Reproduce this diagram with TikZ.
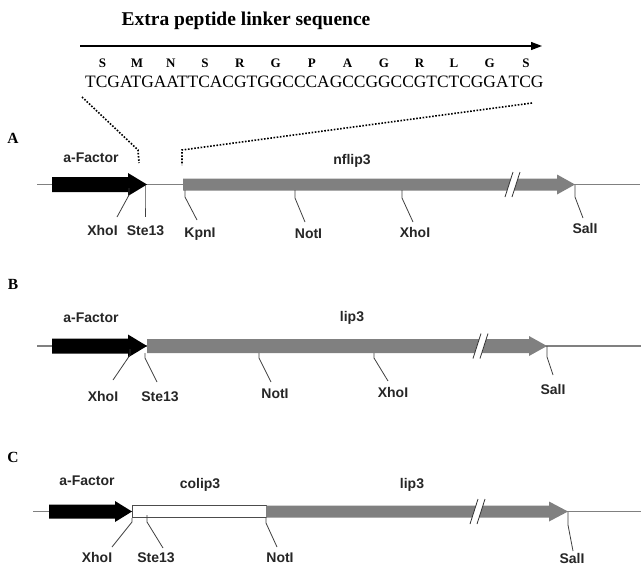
\documentclass[tikz,border=0pt]{standalone}
\usepackage{fontspec}
\setmainfont{Liberation Serif}
\newfontfamily\arialf{Liberation Sans}
\usetikzlibrary{arrows.meta}
\newsavebox\codbox
\newcommand\cod[2]{\sbox\codbox{#2}\rlap{\hbox to \wd\codbox{\hss\raisebox{20pt}{\fontsize{13}{13}\selectfont\bfseries #1}\hss}}\usebox\codbox}
% site: name, x1,y1, ybend, x2,y2, labx, laby, text
\newcommand\rsite[9]{%
  \coordinate (#1-a) at (#2,#3);
  \coordinate (#1-b) at (#2,#4);
  \coordinate (#1-c) at (#5,#6);
  \node[sitelab] (#1) at (#7,#8) {#9};
  \draw[tick] (#1-a) -- (#1-b) -- (#1-c);
}
\newcommand\brk[2]{% x centre, y centre
  \fill[white] (#1-8,#2+12.5) -- (#1,#2-12.5) -- (#1+7,#2-12.5) -- (#1-1,#2+12.5) -- cycle;
  \draw[black!80, line width=0.8pt] (#1-8,#2+12.5) -- (#1,#2-12.5);
  \draw[black!80, line width=0.8pt] (#1-1,#2+12.5) -- (#1+7,#2-12.5);
}
\tikzset{
  bb/.style={draw=black!50, line width=1.1pt},
  tick/.style={draw=black!75, line width=0.8pt},
  sitelab/.style={font=\arialf\bfseries\fontsize{14}{14}\selectfont, anchor=base, inner sep=0pt, text=black!85},
  genelab/.style={font=\arialf\bfseries\fontsize{14}{14}\selectfont, anchor=base, inner sep=0pt, text=black!85},
  sec/.style={font=\bfseries\fontsize{15.5}{15.5}\selectfont, anchor=base, inner sep=0pt},
  dotline/.style={draw=black, line width=1.6pt, dash pattern=on 1.6pt off 1.6pt},
  grayfill/.style={fill=black!50},
}
\begin{document}
\begin{tikzpicture}[x=1pt, y=-1pt]
\useasboundingbox (0,0) rectangle (642,565);
\clip (0,0) rectangle (642,565);
\fill[white] (0,0) rectangle (642,565);

% ---- linker sequence ----
\node[font=\bfseries\fontsize{19.5}{22}\selectfont, anchor=base, inner sep=0pt] (title) at (246,25) {Extra peptide linker sequence};
\coordinate (arrS) at (80,46);
\coordinate (arrE) at (542,46);
\draw[line width=1.3pt, -{Triangle[length=11pt,width=8pt]}] (arrS) -- (arrE);
\node[anchor=base west, inner sep=0pt, font=\fontsize{17.4}{20}\selectfont] (seq) at (85,87)
 {\cod{S}{TCG}\cod{M}{ATG}\cod{N}{AAT}\cod{S}{TCA}\cod{R}{CGT}\cod{G}{GGC}\cod{P}{CCA}\cod{A}{GCC}\cod{G}{GGC}\cod{R}{CGT}\cod{L}{CTC}\cod{G}{GGA}\cod{S}{TCG}};

% dotted zoom lines
\coordinate (dl1) at (82,97);
\coordinate (dl2) at (138,150);
\coordinate (dl3) at (139,163);
\coordinate (dr1) at (532,103);
\coordinate (dr2) at (182,150);
\coordinate (dr3) at (182,165);
\draw[dotline] (dl1) -- (dl2) -- (dl3);
\draw[dotline] (dr1) -- (dr2) -- (dr3);

% ---- A ----
\node[sec] (A) at (13,143) {A};
\coordinate (bA1) at (37,184.5);
\coordinate (bA2) at (640,184.5);
\draw[bb] (bA1) -- (bA2);
\fill[black] (52,177)--(128,177)--(128,173)--(147,184.5)--(128,196)--(128,192)--(52,192)--cycle;
\fill[grayfill] (183,178.5)--(557,178.5)--(557,174.5)--(575,184.5)--(557,194.5)--(557,190.5)--(183,190.5)--cycle;
\brk{513}{184.5}
\node[genelab] (afA) at (91,162) {a-Factor};
\node[genelab] (nflip) at (352,164) {nflip3};
\rsite{xhoA1}{129}{188}{195}{117}{217}{102.5}{235}{XhoI}
\rsite{steA}{145}{185}{200}{145}{217}{145.5}{235}{Ste13}
\rsite{kpnA}{185}{190}{197}{197}{220}{200}{237}{KpnI}
\rsite{notA}{295}{190}{198}{305}{222}{308.5}{238}{NotI}
\rsite{xhoA2}{402}{190}{198}{413}{222}{415}{237}{XhoI}
\rsite{salA}{575}{185}{197}{583}{218}{585}{233}{SalI}

% ---- B ----
\node[sec] (B) at (13,289) {B};
\coordinate (bB1) at (37,346);
\coordinate (bB2) at (641,346);
\draw[bb] (bB1) -- (bB2);
\fill[black] (52,338.5)--(128,338.5)--(128,334.5)--(147,346)--(128,357.5)--(128,353.5)--(52,353.5)--cycle;
\fill[grayfill] (147,339)--(529,339)--(529,336)--(547,346)--(529,356)--(529,353)--(147,353)--cycle;
\brk{481}{346}
\node[genelab] (afB) at (91,322) {a-Factor};
\node[genelab] (lipB) at (352,321) {lip3};
\rsite{xhoB1}{130}{349}{355}{113}{380}{103}{401}{XhoI}
\rsite{steB}{145}{353}{358}{157}{382}{160}{401}{Ste13}
\rsite{notB}{259}{353}{358}{271}{382}{275}{398}{NotI}
\rsite{xhoB2}{374}{353}{358}{388}{381}{393}{397}{XhoI}
\rsite{salB}{547}{346}{357}{553}{375}{553}{394}{SalI}

% ---- C ----
\node[sec] (C) at (13,462) {C};
\coordinate (bC1) at (33,511.5);
\coordinate (bC2) at (641,511.5);
\draw[bb] (bC1) -- (bC2);
\fill[black] (49,504.5)--(115,504.5)--(115,501)--(132,511.5)--(115,522)--(115,518.5)--(49,518.5)--cycle;
\filldraw[fill=white, draw=black!70, line width=0.8pt] (132,505.5) rectangle (266,517.5);
\fill[grayfill] (266,505.5)--(549,505.5)--(549,501.5)--(568,511.5)--(549,521.5)--(549,517.5)--(266,517.5)--cycle;
\brk{478}{511.5}
\node[genelab] (afC) at (87,485) {a-Factor};
\node[genelab] (colip) at (200,488) {colip3};
\node[genelab] (lipC) at (412,488) {lip3};
\rsite{xhoC}{132}{518}{522}{112}{547}{97}{562}{XhoI}
\rsite{steC}{147}{515}{522}{163}{548}{156}{562.5}{Ste13}
\rsite{notC}{266}{518}{523}{277}{547}{280}{562}{NotI}
\rsite{salC}{568}{512}{525}{573}{551}{572}{563}{SalI}
\end{tikzpicture}
\end{document}
